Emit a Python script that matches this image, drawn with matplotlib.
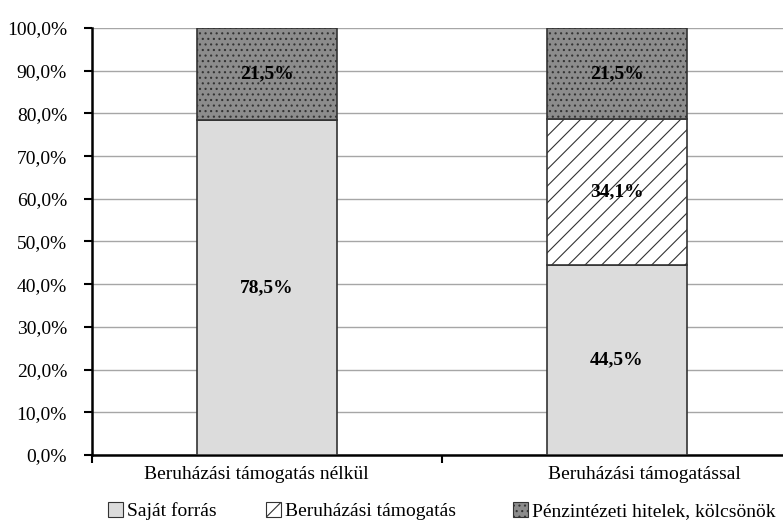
import matplotlib
matplotlib.use("Agg")
import matplotlib.pyplot as plt
from matplotlib.ticker import FuncFormatter, FixedLocator
from matplotlib.patches import Patch

plt.rcParams["font.family"] = ["Liberation Serif", "DejaVu Serif"]
plt.rcParams["hatch.linewidth"] = 0.8

categories = ["Beruházási támogatás nélkül", "Beruházási támogatással"]
series_names = ["Saját forrás", "Beruházási támogatás", "Pénzintézeti hitelek, kölcsönök"]
sajat = [78.5, 44.5]
tamogatas = [0.0, 34.1]
hitel = [21.5, 21.5]
yticks = [0, 10, 20, 30, 40, 50, 60, 70, 80, 90, 100]

colors = ["#dcdcdc", "#ffffff", "#8c8c8c"]
hatches = [None, "//", "..."]
# label anchors (the source places the category labels a little off the bar centres)
label_pos = [-0.03, 1.077]
legend_x = [108, 266, 513]

fig = plt.figure(figsize=(7.83, 5.22), dpi=100)
ax = fig.add_axes([92 / 783, 67 / 522, 700 / 783, 427 / 522])

x = list(range(len(categories)))
bottom = [0.0, 0.0]
for vals, name, c, h in zip([sajat, tamogatas, hitel], series_names, colors, hatches):
    ax.bar(x, vals, width=0.4, bottom=bottom, color=c, hatch=h,
           edgecolor="#333333", linewidth=1.2, zorder=3)
    for xi, v, b in zip(x, vals, bottom):
        if v > 0:
            ax.text(xi, b + v / 2, f"{v:.1f}%".replace(".", ","), ha="center", va="center",
                    fontsize=14, fontweight="bold", zorder=4)
    bottom = [b + v for b, v in zip(bottom, vals)]

ax.set_xlim(-0.5, 1.5)
ax.set_ylim(0, 100)
ax.yaxis.set_major_locator(FixedLocator(yticks))
ax.yaxis.set_major_formatter(FuncFormatter(lambda v, p: f"{v:.1f}%".replace(".", ",")))
ax.grid(axis="y", color="#a6a6a6", linewidth=1, zorder=0)
ax.set_axisbelow(True)

ax.set_xticks([-0.5, 0.5, 1.5])
ax.set_xticklabels([])
ax.set_xticks(label_pos, minor=True)
ax.set_xticklabels(categories, minor=True)
ax.tick_params(axis="x", which="minor", length=0, pad=8, labelsize=14)
ax.tick_params(axis="x", which="major", length=6, width=1.5, direction="out")
ax.tick_params(axis="y", length=6, width=1.5, direction="out", pad=12, labelsize=14)

for s in ["top", "right"]:
    ax.spines[s].set_visible(False)
ax.spines["left"].set_linewidth(1.8)
ax.spines["bottom"].set_linewidth(1.8)

for c, h, n, lx in zip(colors, hatches, series_names, legend_x):
    handle = Patch(facecolor=c, hatch=h, edgecolor="#333333", linewidth=0.8, label=n)
    fig.legend(handles=[handle], loc="center left", bbox_to_anchor=(lx / 783, 1 - 511 / 522),
               frameon=False, fontsize=14, handlelength=0.78, handleheight=0.78,
               handletextpad=0.2, borderpad=0, borderaxespad=0)

fig.savefig("out.png", dpi=100)
